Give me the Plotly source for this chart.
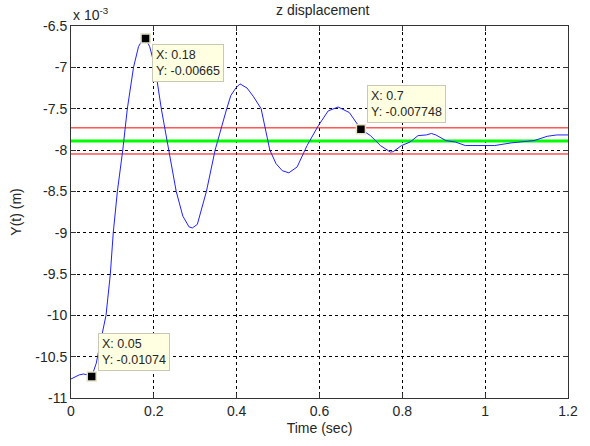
import plotly.graph_objects as go

# ---- data (time in s, displacement in units of 1e-3 m) ----
t = [0.0, 0.01, 0.02, 0.03, 0.04, 0.05, 0.061, 0.07, 0.0845, 0.095, 0.102, 0.112,
     0.125, 0.136, 0.151, 0.163, 0.172, 0.18, 0.19, 0.203, 0.218, 0.236, 0.254,
     0.27, 0.285, 0.293, 0.305, 0.327, 0.348, 0.376, 0.386, 0.398, 0.408, 0.425,
     0.44, 0.459, 0.48, 0.495, 0.51, 0.526, 0.546, 0.57, 0.597, 0.621, 0.645,
     0.672, 0.692, 0.70, 0.723, 0.747, 0.771, 0.778, 0.798, 0.818, 0.838, 0.858,
     0.87, 0.881, 0.905, 0.929, 0.952, 0.976, 1.023, 1.063, 1.094, 1.118, 1.15,
     1.173, 1.2]
y = [-10.77, -10.74, -10.72, -10.71, -10.72, -10.74, -10.58, -10.35, -10.0, -9.5,
     -9.0, -8.5, -8.0, -7.5, -7.0, -6.75, -6.67, -6.65, -6.75, -7.0, -7.5, -8.0,
     -8.5, -8.8, -8.93, -8.943, -8.9, -8.5, -8.0, -7.5, -7.34, -7.25, -7.20, -7.25,
     -7.35, -7.5, -8.0, -8.165, -8.25, -8.276, -8.205, -7.946, -7.707, -7.527,
     -7.48, -7.547, -7.686, -7.748, -7.826, -7.946, -8.025, -8.02, -7.946, -7.905,
     -7.826, -7.818, -7.80, -7.818, -7.886, -7.905, -7.946, -7.946, -7.946, -7.914,
     -7.898, -7.886, -7.834, -7.818, -7.818]

final_value = -7.89
band_upper = -7.732
band_lower = -8.048

tip_x = [0.05, 0.18, 0.7]
tip_y = [-10.74, -6.65, -7.748]
tip_labels = ["X: 0.05<br>Y: -0.01074", "X: 0.18<br>Y: -0.00665", "X: 0.7<br>Y: -0.007748"]
tip_anchor = ["bottom", "top", "bottom"]

x_ticks = [0, 0.2, 0.4, 0.6, 0.8, 1, 1.2]
x_ticklabels = ["0", "0.2", "0.4", "0.6", "0.8", "1", "1.2"]
y_ticks = [-11, -10.5, -10, -9.5, -9, -8.5, -8, -7.5, -7, -6.5]
y_ticklabels = ["-11", "-10.5", "-10", "-9.5", "-9", "-8.5", "-8", "-7.5", "-7", "-6.5"]

FONT = "Liberation Sans, Arial, sans-serif"
TXT = "#262626"

fig = go.Figure()
xr = [0, 1.2]
fig.add_trace(go.Scatter(x=xr, y=[band_upper] * 2, mode="lines",
                         line=dict(color="#ff0000", width=1), hoverinfo="skip"))
fig.add_trace(go.Scatter(x=xr, y=[band_lower] * 2, mode="lines",
                         line=dict(color="#ff0000", width=1), hoverinfo="skip"))
fig.add_trace(go.Scatter(x=xr, y=[final_value] * 2, mode="lines",
                         line=dict(color="#00ff00", width=3), hoverinfo="skip"))
fig.add_trace(go.Scatter(x=t, y=y, mode="lines",
                         line=dict(color="#2020ff", width=1)))
fig.add_trace(go.Scatter(x=tip_x, y=tip_y, mode="markers",
                         marker=dict(symbol="square", size=9, color="black",
                                     line=dict(color="#e6e2c4", width=1.5))))

for xv, yv, lab, anc in zip(tip_x, tip_y, tip_labels, tip_anchor):
    fig.add_annotation(x=xv, y=yv, xref="x", yref="y", text=lab, showarrow=False,
                       xanchor="left", yanchor=anc, align="left",
                       xshift=6, yshift=(-6 if anc == "top" else 6),
                       bgcolor="#ffffe1", bordercolor="#c8c8b4", borderwidth=1,
                       borderpad=3, font=dict(family=FONT, size=12.5, color=TXT))

fig.add_annotation(x=0, y=1, xref="paper", yref="paper", xanchor="left",
                   yanchor="bottom", yshift=1, showarrow=False,
                   text="x 10<sup>-3</sup>", font=dict(family=FONT, size=14, color=TXT))

axis_common = dict(showline=True, linecolor="#333333", linewidth=1, mirror="ticks",
                   ticks="inside", ticklen=5, tickcolor="#333333",
                   showgrid=True, gridcolor="#000000", gridwidth=1, griddash="3px,3px",
                   zeroline=False, tickfont=dict(family=FONT, size=14, color=TXT))

fig.update_layout(
    width=590, height=446,
    margin=dict(l=71, r=12, t=26, b=44),
    paper_bgcolor="white", plot_bgcolor="white",
    showlegend=False,
    title=dict(text="z displacement", x=0.547, xanchor="center", y=0.988, yanchor="top",
               font=dict(family=FONT, size=14, color=TXT)),
    xaxis=dict(range=[0, 1.2], tickvals=x_ticks, ticktext=x_ticklabels,
               title=dict(text="Time (sec)", standoff=5,
                          font=dict(family=FONT, size=14, color=TXT)),
               **axis_common),
    yaxis=dict(range=[-11, -6.5], tickvals=y_ticks, ticktext=y_ticklabels,
               title=dict(text="Y(t) (m)", standoff=10,
                          font=dict(family=FONT, size=14, color=TXT)),
               **axis_common),
)

fig.write_html("out.html")
